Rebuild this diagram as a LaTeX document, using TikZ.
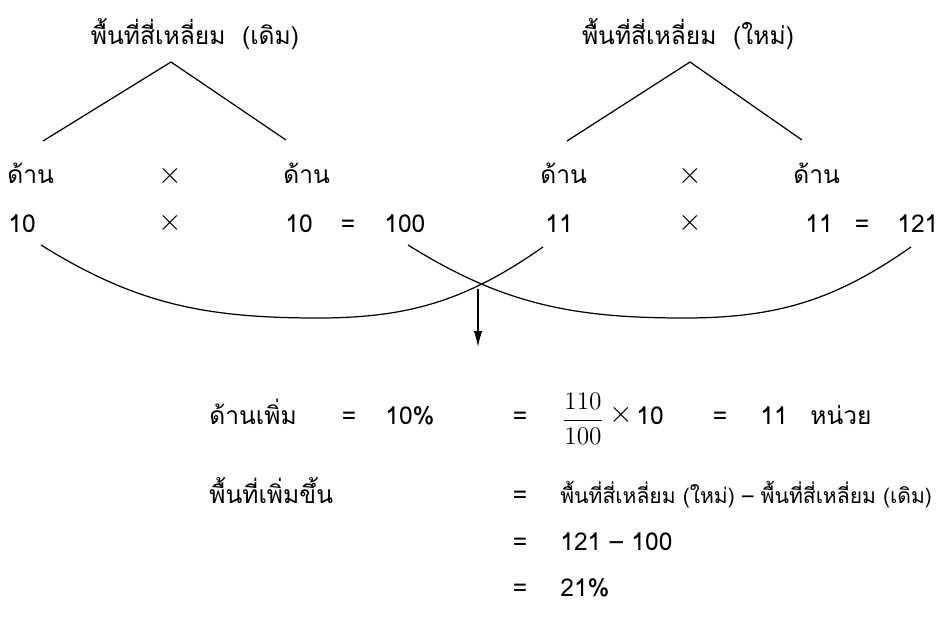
\documentclass[tikz,border=0pt]{standalone}
\usepackage{fontspec}
\newfontfamily\thaifont[Script=Thai]{Loma}
\usetikzlibrary{arrows.meta}
\begin{document}
\begin{tikzpicture}[x=0.02cm,y=-0.02cm,
  txt/.style={font=\thaifont\fontsize{14}{16}\selectfont,inner sep=0pt,anchor=base west},
  sym/.style={font=\thaifont\fontsize{14}{16}\selectfont,inner sep=0pt,anchor=base},
  times/.style={font=\fontsize{17}{19}\selectfont,inner sep=0pt},
  ln/.style={line width=0.7pt}]
\useasboundingbox (0,0) rectangle (938,629);
% หัวข้อ
\node[sym] (titleL) at (195,44) {พื้นที่สี่เหลี่ยม~~(เดิม)};
\node[sym] (titleR) at (688,44) {พื้นที่สี่เหลี่ยม~~(ใหม่)};
\coordinate (apexL) at (171,62);
\coordinate (apexR) at (690,62);
\coordinate (legLa) at (43,141);
\coordinate (legLb) at (286,140);
\coordinate (legRa) at (567,141);
\coordinate (legRb) at (802,140);
\draw[ln] (legLa) -- (apexL) -- (legLb);
\draw[ln] (legRa) -- (apexR) -- (legRb);
% แถว ด้าน
\foreach \x/\name in {7/sideA,283/sideB,540/sideC,793/sideD} {
  \node[txt] (\name) at (\x,183) {ด้าน};
}
\foreach \x/\name in {170/mulA,690/mulB} {
  \node[times] (\name) at (\x,176) {$\times$};
}
% แถว ตัวเลข
\foreach \x/\t/\name in {8/10/numA,285/10/numB,384/100/numC,545/11/numD,805/11/numE,897/121/numF} {
  \node[txt] (\name) at (\x,232) {\t};
}
\foreach \x/\name in {170/opA,690/opC} {
  \node[times] (\name) at (\x,223) {$\times$};
}
\foreach \x/\name in {348/opB,862/opD} {
  \node[sym] (\name) at (\x,232) {=};
}
% เส้นโค้ง
\coordinate (curAs) at (41,245);
\coordinate (curAm) at (318,318);
\coordinate (curAe) at (543,247);
\coordinate (curBs) at (408,245);
\coordinate (curBm) at (684,318);
\coordinate (curBe) at (911,247);
\draw[ln] (curAs) to[out=-32,in=180] (curAm) to[out=0,in=-145] (curAe);
\draw[ln] (curBs) to[out=-32,in=180] (curBm) to[out=0,in=-145] (curBe);
\coordinate (arrS) at (478,289);
\coordinate (arrE) at (478,347);
\draw[ln,-{Latex[length=3.2mm,width=1.7mm]}] (arrS) -- (arrE);
% ด้านเพิ่ม
\node[txt] (incSide) at (209,424) {ด้านเพิ่ม};
\node[sym] (eqA) at (349,424) {=};
\node[txt] (pct) at (385,424) {10\%};
\node[sym] (eqB) at (520,424) {=};
\node[inner sep=0pt] (frac) at (583,419) {\fontsize{15}{17}\selectfont$\displaystyle\frac{110}{100}$};
\node[times] (mulC) at (621,415) {$\times$};
\node[txt] (ten) at (636,424) {10};
\node[sym] (eqC) at (720,424) {=};
\node[txt] (res) at (760,424) {11};
\node[txt] (unit) at (810,424) {หน่วย};
% พื้นที่เพิ่มขึ้น
\node[txt] (incArea) at (209,503) {พื้นที่เพิ่มขึ้น};
\node[sym] (eqstepA) at (520,503) {=};
\node[txt,font=\thaifont\fontsize{12}{14}\selectfont] (stepA) at (560,503) {พื้นที่สี่เหลี่ยม~(ใหม่) – พื้นที่สี่เหลี่ยม~(เดิม)};
\foreach \y/\t/\name in {550/121 – 100/stepB,596/21\%/stepC} {
  \node[sym] (eq\name) at (520,\y) {=};
  \node[txt] (\name) at (560,\y) {\t};
}
\end{tikzpicture}
\end{document}
